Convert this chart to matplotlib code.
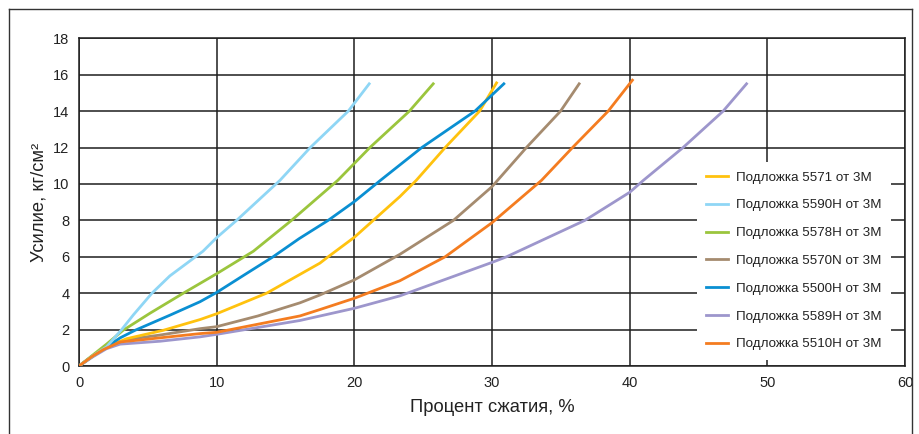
import matplotlib
matplotlib.use("Agg")
import matplotlib.pyplot as plt
from matplotlib.lines import Line2D

plt.rcParams['font.family'] = ['Liberation Sans', 'DejaVu Sans']

# readings (compression %, force kg/cm2)
x_5571 = [0, 1, 2, 3.46, 6.12, 8.79, 10, 13.63, 17.5, 18.1, 20, 23.3, 24.5, 26.6, 29.1, 30.33]
y_5571 = [0, 0.55, 1.05, 1.5, 1.96, 2.55, 2.87, 4.0, 5.65, 6.0, 7.07, 9.3, 10.2, 12, 14, 15.55]

x_5590h = [0, 1, 2, 3.1, 3.94, 5.3, 6.6, 9.0, 10, 11.45, 14.6, 16.8, 19.56, 21.08]
y_5590h = [0, 0.55, 1.05, 2.0, 2.8, 4.0, 4.95, 6.3, 7.05, 8.0, 10.2, 12, 14, 15.5]

x_5578h = [0, 1, 2, 3.2, 5.16, 7.58, 10, 12.66, 15.44, 18.8, 21.13, 24, 25.73]
y_5578h = [0, 0.6, 1.2, 1.96, 2.9, 4.0, 5.07, 6.3, 8.0, 10.2, 12, 14, 15.5]

x_5570n = [0, 1, 2, 3.46, 5.88, 8.79, 10, 13, 16.05, 17.5, 20, 23.3, 27.2, 30, 32.5, 34.98, 36.33]
y_5570n = [0, 0.55, 1.05, 1.45, 1.7, 2.05, 2.16, 2.75, 3.47, 3.9, 4.73, 6.13, 8.0, 9.85, 12, 14, 15.5]

x_5500h = [0, 1, 2, 3, 4.07, 6.6, 8.79, 10, 12, 14.1, 16, 18.1, 20, 21.9, 24.9, 28.76, 30.86]
y_5500h = [0, 0.55, 1.05, 1.55, 1.96, 2.79, 3.53, 4.04, 5.0, 6.0, 7.0, 8.0, 9.03, 10.2, 12, 14, 15.5]

x_5589h = [0, 1, 2, 2.98, 5.88, 8.79, 10, 16.05, 20, 23.3, 30, 31.06, 36.75, 40, 41.0, 43.88, 46.79, 48.49]
y_5589h = [0, 0.5, 0.95, 1.2, 1.36, 1.6, 1.74, 2.5, 3.17, 3.85, 5.69, 6.0, 8.0, 9.54, 10.2, 12, 14, 15.5]

x_5510h = [0, 1, 1.77, 2.98, 4.67, 8.79, 10, 16.05, 17.5, 20, 23.3, 26.6, 30, 33.6, 35.85, 38.44, 40.2]
y_5510h = [0, 0.55, 0.9, 1.32, 1.45, 1.78, 1.85, 2.75, 3.1, 3.72, 4.68, 6.0, 7.87, 10.2, 12, 14, 15.7]

labels = ['Подложка 5571 от 3M', 'Подложка 5590H от 3M', 'Подложка 5578H от 3M',
          'Подложка 5570N от 3M', 'Подложка 5500H от 3M', 'Подложка 5589H от 3M',
          'Подложка 5510H от 3M']
colors = ['#FFC20E', '#8FD6F5', '#9BC53D', '#A58B6F', '#0A8FD2', '#9D96CC', '#F47C20']

series = [(x_5571, y_5571), (x_5590h, y_5590h), (x_5578h, y_5578h), (x_5570n, y_5570n),
          (x_5500h, y_5500h), (x_5589h, y_5589h), (x_5510h, y_5510h)]

xticks = [0, 10, 20, 30, 40, 50, 60]
yticks = [0, 2, 4, 6, 8, 10, 12, 14, 16, 18]


def main():
    fig = plt.figure(figsize=(9.19, 4.34), dpi=100)
    ax = fig.add_axes([79 / 919, 1 - 366 / 434, 826 / 919, 327.7 / 434])

    # orange on top, purple at the bottom, like the original
    draw_order = [5, 3, 0, 4, 2, 1, 6]
    lines = {}
    for k, i in enumerate(draw_order):
        xs, ys = series[i]
        ln, = ax.plot(xs, ys, color=colors[i], lw=2.0, solid_joinstyle='round', zorder=3 + k * 0.01)
        lines[i] = ln

    ax.set_xlim(0, 60)
    ax.set_ylim(0, 18)
    ax.set_xticks(xticks)
    ax.set_yticks(yticks)
    ax.tick_params(length=0, labelsize=10.5, colors='#222222')
    ax.tick_params(axis='y', pad=7)
    ax.tick_params(axis='x', pad=7)
    ax.grid(True, color='#1e1e1e', lw=1.1)
    ax.set_axisbelow(True)
    for s in ax.spines.values():
        s.set_color('#1e1e1e')
        s.set_linewidth(1.1)

    ax.set_xlabel('Процент сжатия, %', fontsize=13.2, color='#222222', labelpad=7)
    ax.set_ylabel('Усилие, кг/см²', fontsize=13.2, color='#222222')
    ax.yaxis.set_label_coords(-0.0385, 0.5)

    leg = ax.legend([lines[i] for i in range(7)], labels, loc='upper left',
                    bbox_to_anchor=(697 / 919, 1 - 162 / 434), bbox_transform=fig.transFigure,
                    fontsize=9.6, frameon=True, fancybox=False, framealpha=1,
                    facecolor='white', edgecolor='none', borderpad=0.7,
                    handlelength=1.65, handletextpad=0.6, labelspacing=1.16,
                    borderaxespad=0)
    leg.set_zorder(10)
    for t in leg.get_texts():
        t.set_color('#222222')

    # outer border of the picture
    fc = '#333333'
    fig.add_artist(Line2D([9 / 919, 9 / 919], [0, 1 - 9 / 434], color=fc, lw=1.0))
    fig.add_artist(Line2D([9 / 919, 912 / 919], [1 - 9 / 434, 1 - 9 / 434], color=fc, lw=1.0))
    fig.add_artist(Line2D([912 / 919, 912 / 919], [0, 1 - 9 / 434], color=fc, lw=1.0))

    fig.savefig('out.png', dpi=100)


if __name__ == "__main__":
    main()
